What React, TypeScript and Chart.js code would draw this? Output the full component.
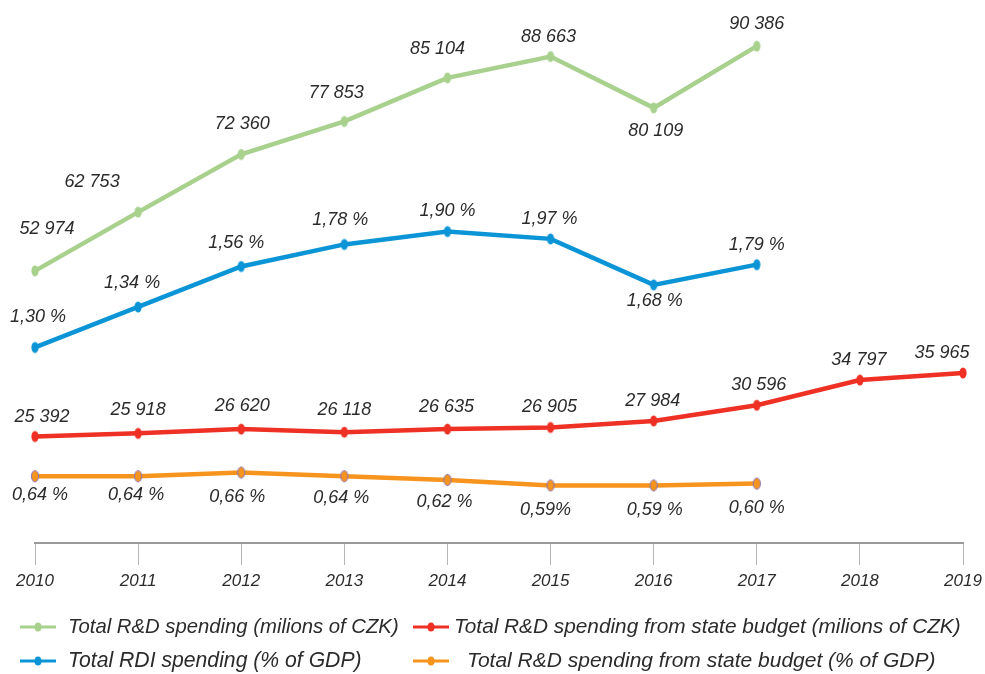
import React, { useEffect, useRef } from "react";
import { Chart, registerables } from "chart.js";

Chart.register(...registerables);

const years = ["2010", "2011", "2012", "2013", "2014", "2015", "2016", "2017", "2018", "2019"];
const rdTotalMil = [52974, 62753, 72360, 77853, 85104, 88663, 80109, 90386, null, null];
const rdStateMil = [25392, 25918, 26620, 26118, 26635, 26905, 27984, 30596, 34797, 35965];
const rdiTotalPct = [1.34, 1.56, 1.78, 1.9, 1.97, 1.93, 1.68, 1.79, null, null];
const rdiTotalPctLabels = ["1,30 %", "1,34 %", "1,56 %", "1,78 %", "1,90 %", "1,97 %", "1,68 %", "1,79 %"];
const rdStatePct = [0.64, 0.64, 0.66, 0.64, 0.62, 0.59, 0.59, 0.6, null, null];
const rdStatePctLabels = ["0,64 %", "0,64 %", "0,66 %", "0,64 %", "0,62 %", "0,59%", "0,59 %", "0,60 %"];

const GREEN = "#a9d18e";
const BLUE = "#0b95d6";
const RED = "#ee3124";
const ORANGE = "#f7941d";
const FONT = "'Liberation Sans', Arial, sans-serif";

const fmtThousands = (v: number) => String(v).replace(/\B(?=(\d{3})+(?!\d))/g, " ");

const labelOffsets: Record<number, number[][]> = {
  0: [[12, -42], [-46, -30], [1, -30], [-8, -28], [-10, -29], [-2, -19], [2, 23], [0, -22]],
  1: [[7, -19], [0, -23], [1, -23], [0, -22], [-1, -22], [-1, -20], [-1, -20], [2, -20], [-1, -20], [-21, -20]],
  2: [[3, -30], [-6, -24], [-5, -23], [-4, -24], [0, -21], [-1, -20], [1, 16], [0, -20]],
  3: [[5, 19], [-2, 19], [-4, 24], [-3, 22], [-3, 22], [-5, 25], [1, 25], [0, 24]],
};

const labelTexts: (string[])[] = [
  rdTotalMil.filter((v) => v != null).map((v) => fmtThousands(v as number)),
  rdStateMil.map((v) => fmtThousands(v)),
  rdiTotalPctLabels,
  rdStatePctLabels,
];

const valueLabelsPlugin = {
  id: "valueLabels",
  afterDatasetsDraw(chart: any) {
    const ctx = chart.ctx;
    ctx.save();
    ctx.font = `italic 18px ${FONT}`;
    ctx.fillStyle = "#2b2b2b";
    ctx.textAlign = "center";
    ctx.textBaseline = "middle";
    chart.data.datasets.forEach((_ds: any, di: number) => {
      const meta = chart.getDatasetMeta(di);
      meta.data.forEach((pt: any, i: number) => {
        const txt = labelTexts[di][i];
        if (!txt || pt.skip) return;
        const off = labelOffsets[di][i] || [0, -20];
        ctx.fillText(txt, pt.x + off[0], pt.y + off[1]);
      });
    });
    ctx.restore();
  },
};

const legendItems = [
  { text: "Total R&D spending (milions of CZK)", color: GREEN, x: 20, y: 627, tx: 68, size: 20.3 },
  { text: "Total R&D spending from state budget (milions of CZK)", color: RED, x: 413, y: 627, tx: 454, size: 20.8 },
  { text: "Total RDI spending (% of GDP)", color: BLUE, x: 20, y: 661, tx: 68, size: 21.2 },
  { text: "Total R&D spending from state budget (% of GDP)", color: ORANGE, x: 413, y: 661, tx: 467, size: 21 },
];

const customLegendPlugin = {
  id: "customLegend",
  afterDraw(chart: any) {
    const ctx = chart.ctx;
    ctx.save();
    legendItems.forEach((it) => {
      ctx.strokeStyle = it.color;
      ctx.lineWidth = 3;
      ctx.beginPath();
      ctx.moveTo(it.x, it.y);
      ctx.lineTo(it.x + 36, it.y);
      ctx.stroke();
      ctx.fillStyle = it.color;
      ctx.beginPath();
      ctx.ellipse(it.x + 18, it.y, 3.5, 4.5, 0, 0, Math.PI * 2);
      ctx.fill();
      ctx.font = `italic ${it.size}px ${FONT}`;
      ctx.fillStyle = "#2b2b2b";
      ctx.textAlign = "left";
      ctx.textBaseline = "middle";
      ctx.fillText(it.text, it.tx, it.y);
    });
    ctx.restore();
  },
};

function makePoint(fill: string, stroke?: string) {
  const c = document.createElement("canvas");
  c.width = 10;
  c.height = 14;
  const g = c.getContext("2d")!;
  g.fillStyle = fill;
  g.beginPath();
  g.ellipse(5, 7, 3.6, 5.6, 0, 0, Math.PI * 2);
  g.fill();
  if (stroke) {
    g.strokeStyle = stroke;
    g.lineWidth = 1;
    g.stroke();
  }
  return c;
}

// pixel mapping targets: chart area from y=10 to y=543
const MIL_MIN = 7659;
const MIL_MAX = 96404;
const PCT_MIN = 0.277;
const PCT_MAX = 3.174;

export default function App() {
  const ref = useRef<HTMLCanvasElement | null>(null);
  useEffect(() => {
    if (!ref.current) return;
    const mk = (label: string, data: any[], color: string, axis: string, border?: string) => ({
      label,
      data,
      borderColor: color,
      backgroundColor: color,
      borderWidth: 4.5,
      pointStyle: makePoint(color, border),
      pointRadius: 5,
      yAxisID: axis,
      tension: 0,
      spanGaps: false,
    });
    const chart = new Chart(ref.current, {
      type: "line",
      data: {
        labels: years,
        datasets: [
          mk("Total R&D spending (milions of CZK)", rdTotalMil, GREEN, "yMil"),
          mk("Total R&D spending from state budget (milions of CZK)", rdStateMil, RED, "yMil"),
          mk("Total RDI spending (% of GDP)", rdiTotalPct, BLUE, "yPct"),
          mk("Total R&D spending from state budget (% of GDP)", rdStatePct, ORANGE, "yPct", "#8a74b8"),
        ],
      },
      options: {
        responsive: false,
        animation: false,
        layout: { padding: { left: 35, right: 22, top: 10, bottom: 71 } },
        plugins: { legend: { display: false }, tooltip: { enabled: false } },
        scales: {
          x: {
            type: "category",
            offset: false,
            border: { display: true, color: "#9a9a9a", width: 2 },
            grid: { display: true, drawOnChartArea: false, drawTicks: true, tickLength: 22, color: "#b5b5b5", lineWidth: 1 },
            ticks: { color: "#2b2b2b", font: { family: FONT, size: 17, style: "italic" }, padding: 6, maxRotation: 0, autoSkip: false },
            afterFit: (s: any) => {
              s.height = 60;
              s.paddingLeft = 0;
              s.paddingRight = 0;
            },
          },
          yMil: { display: false, min: MIL_MIN, max: MIL_MAX },
          yPct: { display: false, min: PCT_MIN, max: PCT_MAX },
        },
      } as any,
      plugins: [valueLabelsPlugin, customLegendPlugin],
    });
    return () => chart.destroy();
  }, []);
  return (
    <div style={{ position: "fixed", left: 0, top: 0, width: 985, height: 674, background: "#fff" }}>
      <canvas ref={ref} width={985} height={674} />
    </div>
  );
}
